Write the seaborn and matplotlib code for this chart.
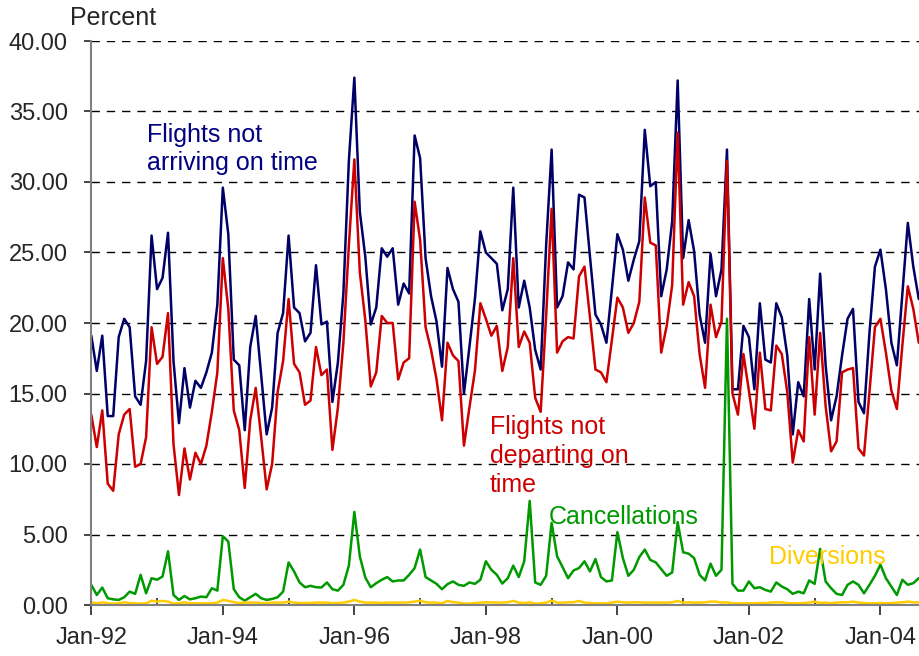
import numpy as np
import pandas as pd
import matplotlib
matplotlib.use("Agg")
import matplotlib.pyplot as plt
import seaborn as sns

# monthly values, Jan-92 .. Aug-04 (percent)
not_arriving = [
    19.1, 16.6, 19.1, 13.4, 13.4, 19.0, 20.3, 19.7, 14.8, 14.2, 17.3, 26.2,
    22.4, 23.2, 26.4, 17.3, 12.9, 16.8, 14.0, 15.9, 15.4, 16.5, 17.9, 21.3,
    29.6, 26.3, 17.4, 17.0, 12.4, 18.3, 20.5, 16.3, 12.1, 14.0, 19.3, 20.7,
    26.2, 21.1, 20.7, 18.7, 19.3, 24.1, 19.9, 20.1, 14.4, 17.2, 22.1, 31.5,
    37.4, 27.9, 24.7, 19.9, 21.1, 25.3, 24.7, 25.3, 21.3, 22.8, 22.1, 33.3,
    31.7, 24.6, 21.9, 20.1, 16.9, 23.9, 22.4, 21.5, 15.0, 18.3, 21.7, 26.5,
    25.0, 24.6, 24.2, 20.9, 22.4, 29.6, 21.1, 23.0, 21.1, 18.1, 16.7, 25.5,
    32.3, 21.1, 21.9, 24.3, 23.8, 29.1, 28.9, 24.7, 20.6, 19.9, 18.6, 22.4,
    26.3, 25.2, 23.0, 24.5, 25.8, 33.7, 29.7, 30.0, 21.9, 23.8, 27.2, 37.2,
    24.6, 27.3, 25.1, 20.6, 18.6, 24.9, 21.9, 23.8, 32.3, 15.3, 15.3, 19.8,
    19.0, 15.3, 21.4, 17.4, 17.2, 21.4, 20.4, 17.7, 12.1, 15.8, 14.8, 21.7,
    16.7, 23.5, 17.0, 13.1, 14.8, 17.7, 20.3, 21.0, 14.4, 13.6, 19.3, 24.0,
    25.2, 22.4, 18.6, 17.0, 22.1, 27.1, 24.0, 21.7,
]
not_departing = [
    13.5, 11.2, 13.8, 8.6, 8.1, 12.1, 13.5, 13.9, 9.8, 10.0, 11.9, 19.7,
    17.1, 17.6, 20.7, 11.4, 7.8, 11.1, 8.9, 10.8, 10.0, 11.3, 13.7, 16.5,
    24.6, 21.0, 13.8, 12.4, 8.3, 13.1, 15.4, 11.9, 8.2, 10.0, 15.1, 17.3,
    21.7, 17.1, 16.5, 14.2, 14.5, 18.3, 16.3, 16.7, 11.0, 14.0, 18.6, 25.5,
    31.6, 23.6, 20.2, 15.5, 16.5, 20.5, 20.0, 20.0, 16.0, 17.2, 17.5, 28.6,
    25.9, 19.7, 18.1, 16.0, 13.1, 18.6, 17.7, 17.3, 11.3, 14.0, 16.6, 21.4,
    20.3, 19.1, 19.8, 16.6, 18.3, 24.6, 18.3, 19.4, 18.6, 14.7, 13.7, 20.5,
    28.1, 17.9, 18.7, 19.0, 18.9, 23.3, 24.0, 20.4, 16.7, 16.5, 15.8, 18.8,
    21.8, 21.1, 19.3, 20.0, 21.5, 28.9, 25.7, 25.5, 17.9, 19.8, 22.7, 33.5,
    21.3, 22.9, 21.9, 17.8, 15.4, 21.3, 19.0, 20.1, 31.5, 15.0, 13.5, 17.8,
    15.2, 12.5, 17.9, 13.9, 13.8, 18.4, 17.8, 15.1, 10.1, 12.4, 11.6, 19.0,
    13.5, 19.3, 14.1, 10.9, 11.6, 16.5, 16.7, 16.8, 11.1, 10.6, 15.1, 19.7,
    20.3, 17.9, 15.2, 13.9, 18.4, 22.6, 21.0, 18.6,
]
cancellations = [
    1.43, 0.71, 1.24, 0.48, 0.40, 0.36, 0.55, 0.95, 0.79, 2.14, 0.83, 1.90,
    1.79, 2.02, 3.81, 0.71, 0.36, 0.64, 0.40, 0.48, 0.60, 0.55, 1.19, 1.02,
    4.88, 4.50, 1.12, 0.55, 0.31, 0.55, 0.79, 0.48, 0.36, 0.43, 0.55, 0.95,
    3.02, 2.38, 1.60, 1.26, 1.36, 1.26, 1.24, 1.60, 1.12, 1.02, 1.43, 2.79,
    6.60, 3.45, 1.95, 1.26, 1.55, 1.79, 1.98, 1.67, 1.74, 1.74, 2.14, 2.62,
    3.93, 1.98, 1.74, 1.50, 1.12, 1.48, 1.67, 1.43, 1.36, 1.60, 1.50, 1.79,
    3.10, 2.50, 2.14, 1.52, 1.90, 2.79, 1.98, 3.10, 7.38, 1.60, 1.43, 2.07,
    5.83, 3.45, 2.69, 1.90, 2.45, 2.62, 3.10, 2.38, 3.26, 1.98, 1.67, 1.74,
    5.17, 3.33, 2.07, 2.50, 3.40, 3.93, 3.20, 3.02, 2.55, 2.07, 2.31, 5.88,
    3.74, 3.64, 3.33, 2.14, 1.74, 2.93, 2.07, 2.50, 20.3, 1.50, 1.02, 1.02,
    1.67, 1.19, 1.26, 1.07, 0.95, 1.60, 1.31, 1.12, 0.79, 0.95, 0.83, 1.74,
    1.50, 3.98, 1.67, 1.19, 0.79, 0.71, 1.43, 1.67, 1.43, 0.83, 1.43, 2.07,
    2.86, 1.90, 1.31, 0.71, 1.79, 1.43, 1.55, 1.90,
]
diversions = [
    0.19, 0.12, 0.19, 0.12, 0.10, 0.12, 0.19, 0.14, 0.12, 0.10, 0.12, 0.31,
    0.24, 0.29, 0.24, 0.10, 0.12, 0.19, 0.12, 0.12, 0.12, 0.12, 0.12, 0.17,
    0.36, 0.29, 0.20, 0.14, 0.17, 0.17, 0.17, 0.14, 0.14, 0.17, 0.17, 0.17,
    0.24, 0.17, 0.14, 0.14, 0.14, 0.17, 0.17, 0.17, 0.12, 0.14, 0.17, 0.24,
    0.36, 0.24, 0.17, 0.17, 0.17, 0.14, 0.17, 0.17, 0.17, 0.17, 0.19, 0.24,
    0.31, 0.19, 0.17, 0.17, 0.12, 0.29, 0.20, 0.17, 0.10, 0.10, 0.14, 0.17,
    0.19, 0.19, 0.17, 0.17, 0.20, 0.29, 0.17, 0.14, 0.19, 0.10, 0.12, 0.17,
    0.31, 0.17, 0.17, 0.19, 0.20, 0.29, 0.17, 0.14, 0.12, 0.12, 0.12, 0.17,
    0.24, 0.19, 0.17, 0.19, 0.19, 0.17, 0.17, 0.17, 0.17, 0.17, 0.19, 0.29,
    0.17, 0.19, 0.17, 0.17, 0.19, 0.24, 0.24, 0.17, 0.19, 0.12, 0.12, 0.12,
    0.12, 0.12, 0.14, 0.14, 0.17, 0.19, 0.19, 0.14, 0.12, 0.12, 0.14, 0.17,
    0.24, 0.14, 0.17, 0.12, 0.17, 0.19, 0.19, 0.24, 0.17, 0.14, 0.12, 0.12,
    0.14, 0.12, 0.14, 0.17, 0.19, 0.24, 0.19, 0.19,
]
tick_labels = ["Jan-92", "Jan-94", "Jan-96", "Jan-98", "Jan-00", "Jan-02", "Jan-04"]

months = np.arange(len(not_arriving))
df = pd.DataFrame({
    "month": months,
    "arr": not_arriving,
    "dep": not_departing,
    "canc": cancellations,
    "div": diversions,
})

sns.set_theme(style="white")
plt.rcParams["font.family"] = ["Liberation Sans", "DejaVu Sans"]

fig = plt.figure(figsize=(9.2, 6.56), dpi=100)
ax = fig.add_axes([91.3 / 920, 1 - 605 / 656, 1 - 91.3 / 920, (605 - 41) / 656])

colors = {"arr": "#000066", "dep": "#CC0000", "canc": "#009900", "div": "#FFCC00"}
for col in ["arr", "dep", "canc", "div"]:
    sns.lineplot(data=df, x="month", y=col, ax=ax, color=colors[col], linewidth=1.8)

ax.set_xlim(0, (920 - 91.3) / 5.48)
ax.set_ylim(0, 40)
ax.set_yticks(np.arange(0, 41, 5))
ax.set_yticklabels([f"{v:.2f}" for v in np.arange(0, 41, 5)], fontsize=17)
ax.set_xticks(np.arange(0, 24 * len(tick_labels), 24))
ax.set_xticklabels(tick_labels, fontsize=17)
ax.set_xticks(np.arange(12, 152, 24), minor=True)
ax.set_xlabel("")
ax.set_ylabel("")

for v in np.arange(5, 41, 5):
    ax.axhline(v, color="black", linewidth=1.0, linestyle=(0, (6, 5)), zorder=0)

for s in ["top", "right"]:
    ax.spines[s].set_visible(False)
for s in ["left", "bottom"]:
    ax.spines[s].set_color("#808080")
    ax.spines[s].set_linewidth(1.5)
ax.tick_params(axis="y", which="major", direction="out", length=5,
               width=1.2, left=True, pad=12)
ax.tick_params(axis="x", which="major", direction="out", length=7,
               width=1.2, bottom=True, pad=9)
ax.tick_params(axis="x", which="minor", direction="in", length=5,
               width=1.2, bottom=True)
for t in ax.get_xticklines() + ax.get_yticklines() + ax.xaxis.get_minorticklines():
    t.set_color("#808080")

fig.text(70 / 920, 1 - 18 / 656, "Percent", fontsize=18, va="center", ha="left")

def px(x, y):
    return (x - 91.3) / 5.48, (605 - y) / 14.1

ax.text(*px(147, 149), "Flights not\narriving on time", color="#000080",
        fontsize=18, ha="left", va="center", linespacing=1.25)
ax.text(*px(490, 456), "Flights not\ndeparting on\ntime", color="#CC0000",
        fontsize=18, ha="left", va="center", linespacing=1.25)
ax.text(*px(549, 517), "Cancellations", color="#009900", fontsize=18,
        ha="left", va="center")
ax.text(*px(769, 557), "Diversions", color="#FFCC00", fontsize=18,
        ha="left", va="center")

fig.savefig("out.png", dpi=100)
